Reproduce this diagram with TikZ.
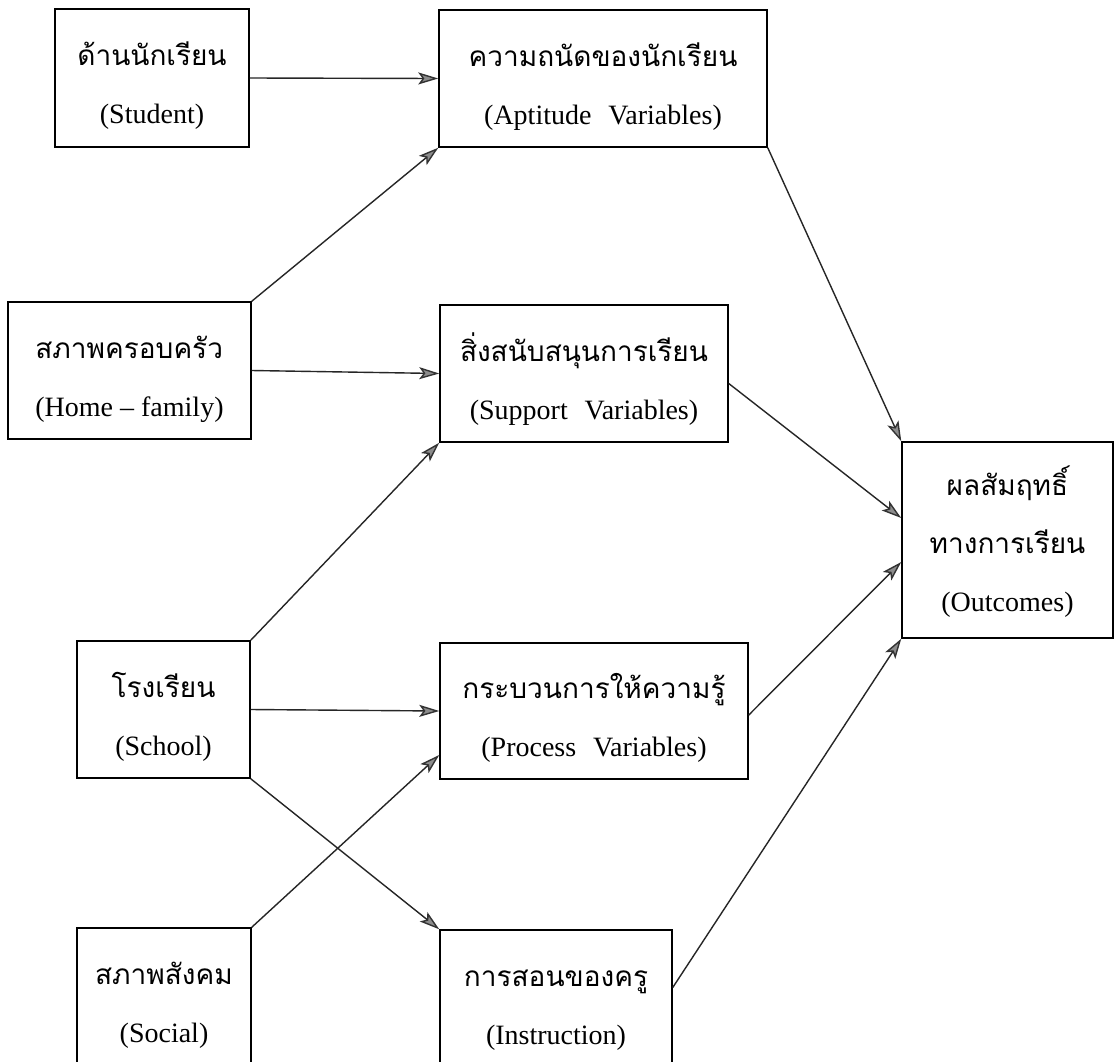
\documentclass[tikz,border=0pt]{standalone}
\usepackage{fontspec}
\setmainfont{Liberation Serif}
\newfontfamily\thai[Script=Thai]{Loma}
\newcommand\thl[2][19.6pt]{\rule{0pt}{#1}\smash{\thai #2}}
\usetikzlibrary{arrows.meta,calc}
\begin{document}
\begin{tikzpicture}[x=0.5pt,y=-0.5pt,
  box/.style={draw, line width=0.75pt, inner sep=0pt, align=center,
    font=\fontsize{14}{29}\selectfont},
  conn/.style={line width=0.7pt, draw=black!85,
    -{Stealth[length=10pt,width=6pt,inset=2.2pt,fill=black!45,color=black!80]}}]
\useasboundingbox (0,0) rectangle (1114,1061);
\clip (0,0) rectangle (1114,1061);
\fill[white] (0,0) rectangle (1114,1061);

\node[box, minimum width=97pt, minimum height=69pt] (stu) at (152,78)
  {\thl{ด้านนักเรียน}\\(Student)};
\node[box, minimum width=164pt, minimum height=68.5pt] (apt) at (603,78.5)
  {\thl{ความถนัดของนักเรียน}\\(Aptitude\hspace{0.6em}Variables)};
\node[box, align=left, minimum width=121.5pt, minimum height=68.5pt] (home) at (129.5,370.5)
  {\thl{สภาพครอบครัว}\\(Home -- family)};
\node[box, minimum width=144pt, minimum height=68.5pt] (sup) at (584,373.5)
  {\thl{สิ่งสนับสนุนการเรียน}\\(Support\hspace{0.6em}Variables)};
\node[box, minimum width=105.5pt, minimum height=98pt] (out) at (1007.5,540)
  {\thl[16.6pt]{ผลสัมฤทธิ์}\\{\thai ทางการเรียน}\\(Outcomes)};
\node[box, minimum width=86.5pt, minimum height=68.5pt] (sch) at (163.5,709.5)
  {\thl{โรงเรียน}\\(School)};
\node[box, minimum width=154pt, minimum height=68pt] (pro) at (594,711)
  {\thl{กระบวนการให้ความรู้}\\(Process\hspace{0.6em}Variables)};
\node[box, minimum width=87pt, minimum height=68.5pt] (soc) at (164,996.5)
  {\thl{สภาพสังคม}\\(Social)};
\node[box, minimum width=116pt, minimum height=68.5pt] (ins) at (556,998.5)
  {\thl{การสอนของครู}\\(Instruction)};

\draw[conn] (stu.east) -- (apt.west);
\draw[conn] (home.north east) -- (apt.south west);
\draw[conn] (home.east) -- (sup.west);
\draw[conn] (sch.north east) -- (sup.south west);
\draw[conn] (sch.east) -- (pro.west);
\draw[conn] (sch.south east) -- (ins.north west);
\draw[conn] (soc.north east) -- ($(pro.south west)!0.18!(pro.north west)$);
\draw[conn] (apt.south east) -- (out.north west);
\draw[conn] ($(sup.east)+(0,10)$) -- ($(out.west)+(0,-22)$);
\draw[conn] ($(pro.east)+(0,4)$) -- ($(out.west)+(0,22)$);
\draw[conn] ($(ins.east)+(0,-11)$) -- (out.south west);
\end{tikzpicture}
\end{document}
